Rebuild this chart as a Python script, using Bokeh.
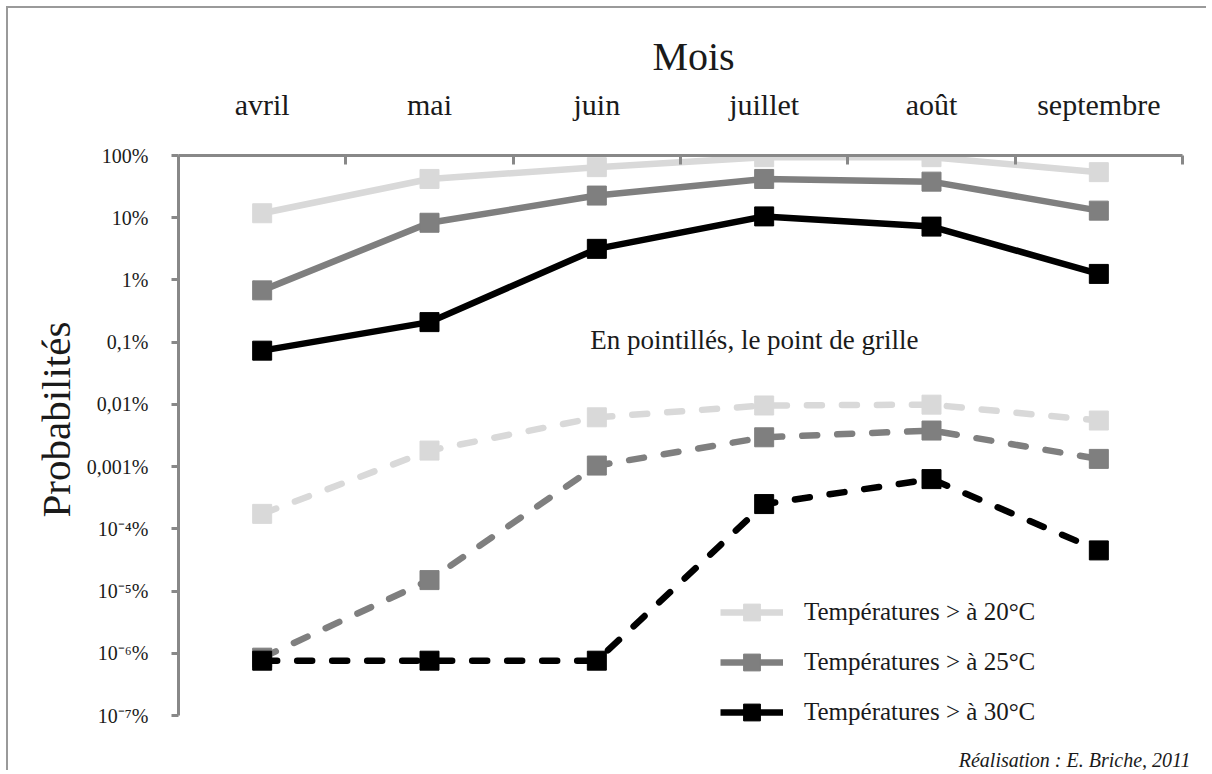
from bokeh.plotting import figure
from bokeh.models import (Range1d, LinearAxis, FixedTicker, Legend,
                          LegendItem, Label, ColumnDataSource, Title)
from bokeh.embed import file_html
from bokeh.resources import INLINE

# ---------------- data ----------------
months = ["avril", "mai", "juin", "juillet", "août", "septembre"]
series_names = ["Températures > à 20°C", "Températures > à 25°C", "Températures > à 30°C"]

# probabilities in % (solid lines: station)
p20_station = [11.8, 42, 65, 94, 94, 54]
p25_station = [0.68, 8.3, 22.7, 42, 38, 13]
p30_station = [0.073, 0.21, 3.16, 10.5, 7.2, 1.25]

# probabilities in % (dashed lines: grid point)
p20_grid = [1.74e-4, 1.81e-3, 6.2e-3, 9.6e-3, 9.9e-3, 5.5e-3]
p25_grid = [8.5e-7, 1.5e-5, 1.04e-3, 2.96e-3, 3.8e-3, 1.33e-3]
p30_grid = [7.6e-7, 7.6e-7, 7.6e-7, 2.5e-4, 6.3e-4, 4.5e-5]

y_ticks = [1e2, 1e1, 1e0, 1e-1, 1e-2, 1e-3, 1e-4, 1e-5, 1e-6, 1e-7]
y_tick_labels = ["100%", "10%", "1%", "0,1%", "0,01%", "0,001%",
                 "10\u207b\u2074%", "10\u207b\u2075%", "10\u207b\u2076%", "10\u207b\u2077%"]

colors = ["#d9d9d9", "#7f7f7f", "#000000"]
FONT = "Liberation Serif"
TXT = "#1a1a1a"
AX = "#888888"

# category centres on a numeric axis (one unit per month)
xpos = [i + 0.5 for i in range(len(months))]
n = len(months)

# ---------------- layout geometry (pixels) ----------------
W, H = 1200, 764
LEFT, TOP = 170, 147              # frame offset inside canvas
AXIS_W = 1004                     # width of the month axis
AXIS_H = 560                      # height of the 9 decades
frame_w = W - LEFT
frame_h = H - TOP
x_end = n * frame_w / AXIS_W
decades = 9
y_start = 10 ** (2 - decades * frame_h / AXIS_H)

p = figure(width=W, height=H, output_backend="svg", toolbar_location=None,
           x_range=Range1d(0, x_end),
           y_range=Range1d(y_start, 100), y_axis_type="log",
           x_axis_location=None,
           min_border_left=LEFT, min_border_top=TOP, min_border_right=0,
           min_border_bottom=0)
p.margin = (6, 0, 0, 6)
p.outline_line_color = None
p.grid.visible = False
p.background_fill_color = "white"
p.border_fill_color = "white"
p.styles = {"border-left": "2px solid #9a9a9a", "border-top": "2px solid #9a9a9a"}

# top axis: labels at month centres, ticks at month boundaries
top = LinearAxis(ticker=FixedTicker(ticks=xpos, minor_ticks=list(range(n + 1))),
                 bounds=(0, n))
top.major_label_overrides = {x: m for x, m in zip(xpos, months)}
top.major_tick_line_color = None
top.major_tick_in = 0
top.major_tick_out = 0
top.minor_tick_in = 9
top.minor_tick_out = 0
top.minor_tick_line_color = AX
top.minor_tick_line_width = 3
top.axis_line_color = AX
top.axis_line_width = 3
top.major_label_standoff = 35
top.major_label_text_font = FONT
top.major_label_text_font_size = "30px"
top.major_label_text_color = TXT
top.axis_label = "Mois"
top.axis_label_text_font = FONT
top.axis_label_text_font_size = "40px"
top.axis_label_text_font_style = "normal"
top.axis_label_text_color = TXT
top.axis_label_standoff = 6
p.add_layout(top, "above")

# left axis
ya = p.yaxis[0]
ya.ticker = FixedTicker(ticks=y_ticks, minor_ticks=[])
ya.bounds = (min(y_ticks), max(y_ticks))
ya.major_label_overrides = {t: l for t, l in zip(y_ticks, y_tick_labels)}
ya.axis_line_color = AX
ya.axis_line_width = 3
ya.major_tick_line_color = AX
ya.major_tick_line_width = 3
ya.major_tick_in = 0
ya.major_tick_out = 7
ya.minor_tick_line_color = None
ya.major_label_standoff = 23
ya.major_label_text_font = FONT
ya.major_label_text_font_size = "20px"
ya.major_label_text_color = TXT

# y-axis title, placed along the decade axis (not the extended frame)
ytitle = Title(text="Probabilités", align="left", offset=255, standoff=10,
               vertical_align="bottom", text_font=FONT, text_font_size="41px",
               text_font_style="normal", text_color=TXT)
p.add_layout(ytitle, "left")

# dashed (grid point)
for vals, c in zip([p20_grid, p25_grid, p30_grid], colors):
    src = ColumnDataSource(dict(x=xpos, y=vals, m=months))
    p.line("x", "y", source=src, line_color=c, line_width=6.5, line_dash="15 20",
           line_cap="round", line_join="round")
    p.scatter("x", "y", source=src, marker="square", size=19, fill_color=c,
              line_color=c, line_width=1)

# solid (station)
items = []
for vals, c, name in zip([p20_station, p25_station, p30_station], colors, series_names):
    src = ColumnDataSource(dict(x=xpos, y=vals, m=months))
    r1 = p.line("x", "y", source=src, line_color=c, line_width=6.5, line_join="round")
    r2 = p.scatter("x", "y", source=src, marker="square", size=19, fill_color=c,
                   line_color=c, line_width=1)
    items.append(LegendItem(label=name, renderers=[r1, r2]))

legend = Legend(items=items, location=(542, 39), padding=0, margin=0,
                glyph_width=63, glyph_height=42, spacing=8, label_standoff=21,
                label_text_font=FONT, label_text_font_size="25px",
                label_text_color=TXT, background_fill_alpha=0,
                border_line_color=None, label_text_baseline="middle")
p.add_layout(legend, "center")

p.add_layout(Label(x=2.46, y=0.11,
                   text="En pointillés, le point de grille", text_font=FONT,
                   text_font_size="27px", text_color=TXT,
                   text_baseline="alphabetic", text_align="left"))
p.add_layout(Label(x=6.048, y=1.96e-8,
                   text="Réalisation : E. Briche, 2011", text_font=FONT,
                   text_font_size="20px", text_font_style="italic", text_color=TXT,
                   text_baseline="alphabetic", text_align="right"))

open("out.html", "w").write(file_html(p, INLINE))
